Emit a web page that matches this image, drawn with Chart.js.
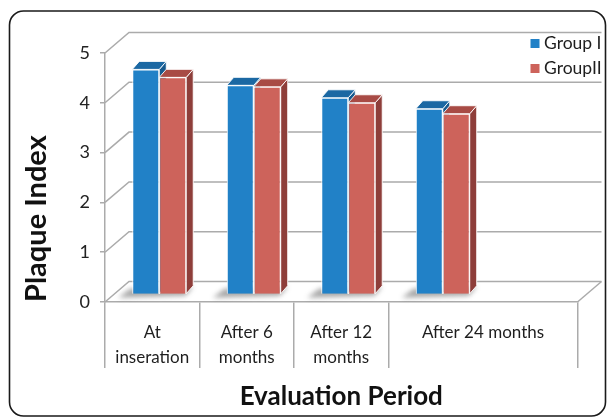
<!DOCTYPE html>
<html><head><meta charset="utf-8">
<script src="https://cdn.jsdelivr.net/npm/chart.js@4.4.1/dist/chart.umd.min.js"></script>
<style>html,body{margin:0;padding:0;background:#fff;}</style>
</head><body>
<canvas id="c" width="607" height="419"></canvas>
<script>
// ---- data ----
const categories = ['At inseration', 'After 6 months', 'After 12 months', 'After 24 months', ''];
const tickLabels = [['At', 'inseration'], ['After 6', 'months'], ['After 12', 'months'], ['After 24 months']];
const seriesNames = ['Group I', 'GroupII'];
const groupI = [4.52, 4.20, 3.95, 3.73];
const groupII = [4.36, 4.17, 3.85, 3.63];
const yTicks = [0, 1, 2, 3, 4, 5];

// ---- style ----
const FONT = 'Lato, "Open Sans", sans-serif';
const GRID = '#ababab';
const WALL = {dx: 24, dy: -20.5};
const BAR_OFF = {dx: 7, dy: -7.5};
const BAR_DEPTH = {dx: 7, dy: -8};
const COLORS = [
  {front: '#2181c7', top: '#1b68a3', side: '#175a8e'},
  {front: '#cd635b', top: '#a84b45', side: '#8e3e3a'}
];

const threeD = {
  id: 'threeD',
  beforeDraw(chart) {
    const ctx = chart.ctx;
    ctx.save();
    ctx.fillStyle = '#fff';
    ctx.fillRect(0, 0, chart.width, chart.height);
    ctx.restore();
  },
  beforeDatasetsDraw(chart) {
    const {ctx, chartArea: a, scales: {y}} = chart;
    ctx.save();
    ctx.strokeStyle = GRID;
    ctx.lineWidth = 1.5;
    y.ticks.forEach(t => {
      const py = y.getPixelForValue(t.value);
      ctx.beginPath();
      ctx.moveTo(a.left, py);
      ctx.lineTo(a.left + WALL.dx, py + WALL.dy);
      ctx.lineTo(a.right + WALL.dx, py + WALL.dy);
      ctx.stroke();
    });
    const p0 = y.getPixelForValue(0);
    ctx.beginPath();
    ctx.moveTo(a.right, p0);
    ctx.lineTo(a.right + WALL.dx, p0 + WALL.dy);
    ctx.stroke();
    // floor shadows under each bar pair
    const m0 = chart.getDatasetMeta(0), m1 = chart.getDatasetMeta(1);
    ctx.save();
    ctx.filter = 'blur(2.5px)';
    ctx.fillStyle = 'rgba(60,60,60,0.45)';
    m0.data.forEach((b0, i) => {
      const b1 = m1.data[i];
      if (!b1) return;
      const l = b0.x - b0.width / 2 + BAR_OFF.dx;
      const r = b1.x + b1.width / 2 + BAR_OFF.dx + BAR_DEPTH.dx;
      const bs = b0.base + BAR_OFF.dy;
      ctx.beginPath();
      ctx.moveTo(l - 2, bs - 5);
      ctx.lineTo(r, bs - 7);
      ctx.lineTo(r - 8, bs + 2);
      ctx.lineTo(l - 14, bs + 4);
      ctx.closePath();
      ctx.fill();
    });
    ctx.restore();
    // side and top faces of the bars (drawn before the library draws the front faces)
    ctx.translate(BAR_OFF.dx, BAR_OFF.dy);
    [0, 1].forEach(di => {
      const col = COLORS[di];
      chart.getDatasetMeta(di).data.forEach(bar => {
        const {x, y: top, base, width} = bar.getProps(['x', 'y', 'base', 'width'], true);
        const l = x - width / 2, r = x + width / 2;
        ctx.lineWidth = 1;
        ctx.strokeStyle = 'rgba(255,255,255,0.9)';
        ctx.beginPath();
        ctx.moveTo(r, top);
        ctx.lineTo(r + BAR_DEPTH.dx, top + BAR_DEPTH.dy);
        ctx.lineTo(r + BAR_DEPTH.dx, base + BAR_DEPTH.dy);
        ctx.lineTo(r, base);
        ctx.closePath();
        ctx.fillStyle = col.side;
        ctx.fill();
        ctx.stroke();
        ctx.beginPath();
        ctx.moveTo(l, top);
        ctx.lineTo(r, top);
        ctx.lineTo(r + BAR_DEPTH.dx, top + BAR_DEPTH.dy);
        ctx.lineTo(l + BAR_DEPTH.dx, top + BAR_DEPTH.dy);
        ctx.closePath();
        ctx.fillStyle = col.top;
        ctx.fill();
        ctx.stroke();
      });
    });
    ctx.restore();
  },
  beforeDatasetDraw(chart) {
    chart.ctx.save();
    chart.ctx.translate(BAR_OFF.dx, BAR_OFF.dy);
  },
  afterDatasetDraw(chart) {
    chart.ctx.restore();
  },
  afterDraw(chart) {
    const {ctx, chartArea: a, scales: {x}} = chart;
    ctx.save();
    // category labels
    ctx.font = '17px ' + FONT;
    ctx.fillStyle = '#1e1e1e';
    ctx.textAlign = 'center';
    ctx.textBaseline = 'alphabetic';
    tickLabels.forEach((lines, i) => {
      let cx = x.getPixelForValue(i);
      if (i === tickLabels.length - 1) cx = (x.getPixelForValue(i) + x.getPixelForValue(i + 1)) / 2;
      lines.forEach((s, k) => ctx.fillText(s, cx, a.bottom + 36 + k * 25));
    });
    // legend
    ctx.font = '17.5px ' + FONT;
    ctx.textAlign = 'left';
    ctx.textBaseline = 'middle';
    chart.data.datasets.forEach((ds, i) => {
      const yy = 43.5 + i * 25;
      ctx.fillStyle = ds.backgroundColor;
      ctx.fillRect(530.5, yy - 4.5, 9, 9);
      ctx.fillStyle = '#1e1e1e';
      ctx.fillText(ds.label, 544, yy);
    });
    // outer rounded frame
    ctx.strokeStyle = '#1a1a1a';
    ctx.lineWidth = 1.6;
    ctx.beginPath();
    ctx.roundRect(9.5, 11, 596, 405, 14);
    ctx.stroke();
    ctx.restore();
  }
};

new Chart(document.getElementById('c'), {
  type: 'bar',
  data: {
    labels: categories,
    datasets: [
      {label: seriesNames[0], data: groupI, backgroundColor: COLORS[0].front, borderColor: '#ffffff', borderWidth: 1, clip: false},
      {label: seriesNames[1], data: groupII, backgroundColor: COLORS[1].front, borderColor: '#ffffff', borderWidth: 1, clip: false}
    ]
  },
  plugins: [threeD],
  options: {
    responsive: false,
    devicePixelRatio: 1,
    animation: false,
    layout: {padding: {left: 10, right: 29.5, top: 53, bottom: 0}},
    datasets: {bar: {categoryPercentage: 0.571, barPercentage: 1}},
    plugins: {legend: {display: false}, tooltip: {enabled: false}},
    scales: {
      x: {
        type: 'category',
        offset: true,
        ticks: {display: false},
        grid: {
          display: true, offset: true, drawOnChartArea: false, drawTicks: true, tickLength: 66,
          color: c => (c.index === 4 ? 'rgba(0,0,0,0)' : GRID), lineWidth: 1.5
        },
        border: {display: true, color: GRID, width: 1.5},
        title: {display: true, text: 'Evaluation Period', color: '#111', font: {family: FONT, size: 26, weight: 'bold'}, padding: {top: 0, bottom: 7}},
        afterFit: s => { s.height = 117; }
      },
      y: {
        min: 0, max: 5,
        afterBuildTicks: s => { s.ticks = yTicks.map(v => ({value: v})); },
        ticks: {padding: 10, color: '#222', font: {family: FONT, size: 18}},
        grid: {display: true, drawOnChartArea: false, drawTicks: true, tickLength: 5, color: GRID, lineWidth: 1.5},
        border: {display: true, color: GRID, width: 1.5},
        title: {display: true, text: 'Plaque Index', align: 'start', color: '#111', font: {family: FONT, size: 29, weight: 'bold'}, padding: {top: 9, bottom: 0}},
        afterFit: s => { s.width = 95; }
      }
    }
  }
});
</script>
</body></html>
